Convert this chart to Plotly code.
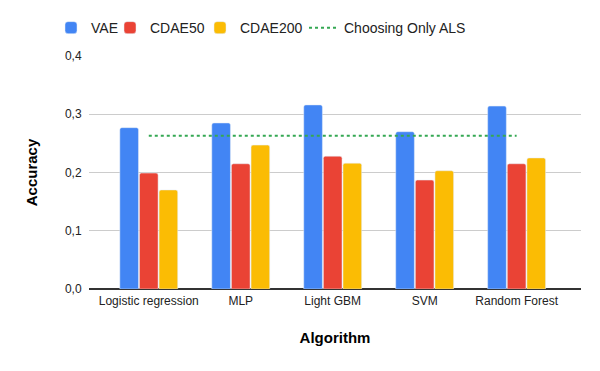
import plotly.graph_objects as go

algorithms = ["Logistic regression", "MLP", "Light GBM", "SVM", "Random Forest"]
vae = [0.277, 0.285, 0.316, 0.270, 0.314]
cdae50 = [0.199, 0.215, 0.228, 0.187, 0.215]
cdae200 = [0.170, 0.247, 0.216, 0.203, 0.225]
als_only = [0.263] * len(algorithms)

font = "Liberation Sans, Arial, sans-serif"

fig = go.Figure()
fig.add_trace(go.Bar(x=algorithms, y=vae, name="VAE", marker_color="#4285F4", legend="legend"))
fig.add_trace(go.Bar(x=algorithms, y=cdae50, name="CDAE50", marker_color="#EA4335", legend="legend2"))
fig.add_trace(go.Bar(x=algorithms, y=cdae200, name="CDAE200", marker_color="#FBBC04", legend="legend3"))
fig.add_trace(go.Scatter(x=algorithms, y=als_only, name="Choosing Only ALS", mode="lines",
                         line=dict(color="#34A853", width=2, dash="dot"), legend="legend4"))

# one legend per entry so the entries can sit as close as in the original
leg = dict(orientation="h", xref="container", yref="container", xanchor="left",
           y=0.946, yanchor="middle", font=dict(size=14, color="#222222"),
           itemwidth=30, bgcolor="rgba(0,0,0,0)")

# the page body has an 8px margin, so the figure is drawn 8px right and down
fig.update_layout(
    width=600, height=371,
    margin=dict(l=81, r=27, t=48, b=90, autoexpand=False),
    paper_bgcolor="white", plot_bgcolor="white",
    font=dict(family=font, color="#222222", size=12),
    separators=", ",
    barmode="group", bargap=0.36, bargroupgap=0.05, barcornerradius=2,
    showlegend=True,
    legend=dict(leg, x=43 / 600),
    legend2=dict(leg, x=102 / 600),
    legend3=dict(leg, x=192 / 600),
    legend4=dict(leg, x=296 / 600),
    xaxis=dict(title=dict(text="<b>Algorithm</b>", font=dict(size=15, color="#000"), standoff=25),
               range=[-0.65, 4.7], showgrid=False, ticks="outside", ticklen=1, tickcolor="white",
               tickfont=dict(size=12, color="#222")),
    yaxis=dict(title=dict(text="<b>Accuracy</b>", font=dict(size=15, color="#000"), standoff=23),
               range=[0, 0.4], dtick=0.1, tickformat=".1f", gridcolor="#cccccc",
               zeroline=True, zerolinecolor="#333333", zerolinewidth=1.5,
               tickfont=dict(size=12, color="#222"), ticks="outside", ticklen=4, tickcolor="white"),
)

fig.write_html("out.html")
